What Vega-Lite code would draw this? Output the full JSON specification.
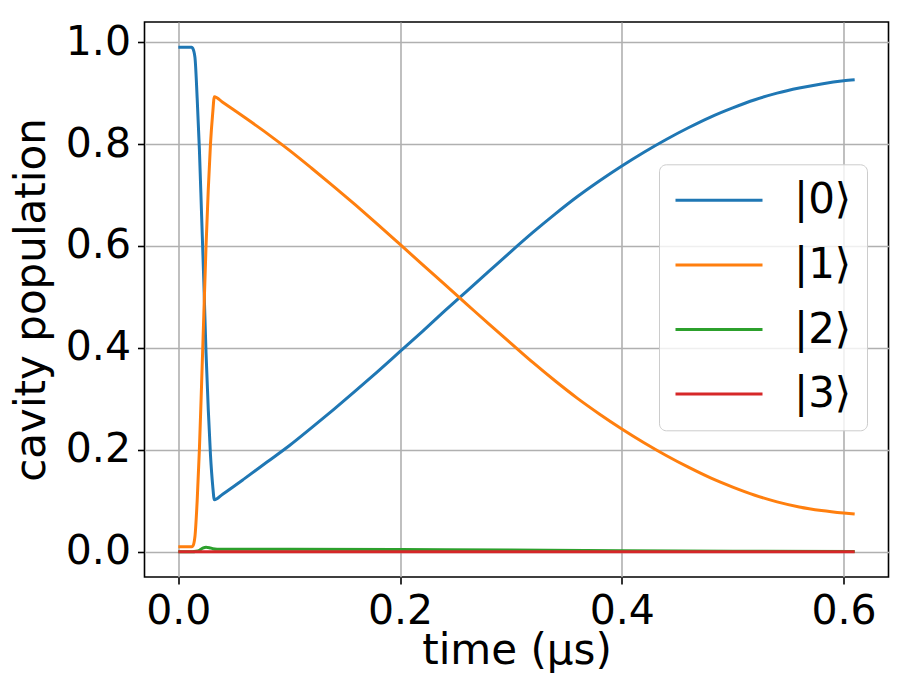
{
  "$schema": "https://vega.github.io/schema/vega-lite/v6.json",
  "width": 744,
  "height": 555,
  "autosize": {"type": "none"},
  "padding": {"left": 144.5, "top": 22, "right": 22.5, "bottom": 122},
  "background": "white",
  "data": {
    "values": [
      {"t": 0, "p": 0.990, "s": "|0⟩"},
      {"t": 0.012, "p": 0.990, "s": "|0⟩"},
      {"t": 0.013, "p": 0.988, "s": "|0⟩"},
      {"t": 0.015, "p": 0.970, "s": "|0⟩"},
      {"t": 0.017, "p": 0.890, "s": "|0⟩"},
      {"t": 0.019, "p": 0.790, "s": "|0⟩"},
      {"t": 0.021, "p": 0.660, "s": "|0⟩"},
      {"t": 0.023, "p": 0.530, "s": "|0⟩"},
      {"t": 0.025, "p": 0.390, "s": "|0⟩"},
      {"t": 0.027, "p": 0.280, "s": "|0⟩"},
      {"t": 0.029, "p": 0.190, "s": "|0⟩"},
      {"t": 0.031, "p": 0.130, "s": "|0⟩"},
      {"t": 0.0325, "p": 0.102, "s": "|0⟩"},
      {"t": 0.04, "p": 0.113, "s": "|0⟩"},
      {"t": 0.06, "p": 0.144, "s": "|0⟩"},
      {"t": 0.08, "p": 0.176, "s": "|0⟩"},
      {"t": 0.10, "p": 0.208, "s": "|0⟩"},
      {"t": 0.12, "p": 0.243, "s": "|0⟩"},
      {"t": 0.14, "p": 0.279, "s": "|0⟩"},
      {"t": 0.16, "p": 0.316, "s": "|0⟩"},
      {"t": 0.18, "p": 0.354, "s": "|0⟩"},
      {"t": 0.20, "p": 0.393, "s": "|0⟩"},
      {"t": 0.22, "p": 0.432, "s": "|0⟩"},
      {"t": 0.24, "p": 0.472, "s": "|0⟩"},
      {"t": 0.26, "p": 0.511, "s": "|0⟩"},
      {"t": 0.28, "p": 0.550, "s": "|0⟩"},
      {"t": 0.30, "p": 0.589, "s": "|0⟩"},
      {"t": 0.32, "p": 0.627, "s": "|0⟩"},
      {"t": 0.34, "p": 0.663, "s": "|0⟩"},
      {"t": 0.36, "p": 0.697, "s": "|0⟩"},
      {"t": 0.38, "p": 0.728, "s": "|0⟩"},
      {"t": 0.40, "p": 0.757, "s": "|0⟩"},
      {"t": 0.42, "p": 0.784, "s": "|0⟩"},
      {"t": 0.44, "p": 0.809, "s": "|0⟩"},
      {"t": 0.46, "p": 0.832, "s": "|0⟩"},
      {"t": 0.48, "p": 0.853, "s": "|0⟩"},
      {"t": 0.50, "p": 0.871, "s": "|0⟩"},
      {"t": 0.52, "p": 0.887, "s": "|0⟩"},
      {"t": 0.54, "p": 0.900, "s": "|0⟩"},
      {"t": 0.56, "p": 0.910, "s": "|0⟩"},
      {"t": 0.58, "p": 0.918, "s": "|0⟩"},
      {"t": 0.60, "p": 0.924, "s": "|0⟩"},
      {"t": 0.61, "p": 0.926, "s": "|0⟩"},

      {"t": 0, "p": 0.010, "s": "|1⟩"},
      {"t": 0.012, "p": 0.010, "s": "|1⟩"},
      {"t": 0.013, "p": 0.011, "s": "|1⟩"},
      {"t": 0.015, "p": 0.030, "s": "|1⟩"},
      {"t": 0.017, "p": 0.100, "s": "|1⟩"},
      {"t": 0.019, "p": 0.200, "s": "|1⟩"},
      {"t": 0.021, "p": 0.330, "s": "|1⟩"},
      {"t": 0.023, "p": 0.465, "s": "|1⟩"},
      {"t": 0.025, "p": 0.600, "s": "|1⟩"},
      {"t": 0.027, "p": 0.710, "s": "|1⟩"},
      {"t": 0.029, "p": 0.800, "s": "|1⟩"},
      {"t": 0.031, "p": 0.860, "s": "|1⟩"},
      {"t": 0.0325, "p": 0.893, "s": "|1⟩"},
      {"t": 0.04, "p": 0.882, "s": "|1⟩"},
      {"t": 0.06, "p": 0.852, "s": "|1⟩"},
      {"t": 0.08, "p": 0.821, "s": "|1⟩"},
      {"t": 0.10, "p": 0.788, "s": "|1⟩"},
      {"t": 0.12, "p": 0.753, "s": "|1⟩"},
      {"t": 0.14, "p": 0.717, "s": "|1⟩"},
      {"t": 0.16, "p": 0.680, "s": "|1⟩"},
      {"t": 0.18, "p": 0.642, "s": "|1⟩"},
      {"t": 0.20, "p": 0.603, "s": "|1⟩"},
      {"t": 0.22, "p": 0.564, "s": "|1⟩"},
      {"t": 0.24, "p": 0.525, "s": "|1⟩"},
      {"t": 0.26, "p": 0.486, "s": "|1⟩"},
      {"t": 0.28, "p": 0.447, "s": "|1⟩"},
      {"t": 0.30, "p": 0.409, "s": "|1⟩"},
      {"t": 0.32, "p": 0.371, "s": "|1⟩"},
      {"t": 0.34, "p": 0.335, "s": "|1⟩"},
      {"t": 0.36, "p": 0.301, "s": "|1⟩"},
      {"t": 0.38, "p": 0.270, "s": "|1⟩"},
      {"t": 0.40, "p": 0.241, "s": "|1⟩"},
      {"t": 0.42, "p": 0.214, "s": "|1⟩"},
      {"t": 0.44, "p": 0.189, "s": "|1⟩"},
      {"t": 0.46, "p": 0.166, "s": "|1⟩"},
      {"t": 0.48, "p": 0.145, "s": "|1⟩"},
      {"t": 0.50, "p": 0.127, "s": "|1⟩"},
      {"t": 0.52, "p": 0.111, "s": "|1⟩"},
      {"t": 0.54, "p": 0.098, "s": "|1⟩"},
      {"t": 0.56, "p": 0.088, "s": "|1⟩"},
      {"t": 0.58, "p": 0.081, "s": "|1⟩"},
      {"t": 0.60, "p": 0.076, "s": "|1⟩"},
      {"t": 0.61, "p": 0.074, "s": "|1⟩"},

      {"t": 0, "p": 0, "s": "|2⟩"},
      {"t": 0.013, "p": 0, "s": "|2⟩"},
      {"t": 0.016, "p": 0.001, "s": "|2⟩"},
      {"t": 0.019, "p": 0.003, "s": "|2⟩"},
      {"t": 0.022, "p": 0.007, "s": "|2⟩"},
      {"t": 0.025, "p": 0.009, "s": "|2⟩"},
      {"t": 0.028, "p": 0.008, "s": "|2⟩"},
      {"t": 0.031, "p": 0.006, "s": "|2⟩"},
      {"t": 0.035, "p": 0.005, "s": "|2⟩"},
      {"t": 0.10, "p": 0.005, "s": "|2⟩"},
      {"t": 0.20, "p": 0.0045, "s": "|2⟩"},
      {"t": 0.30, "p": 0.0035, "s": "|2⟩"},
      {"t": 0.40, "p": 0.002, "s": "|2⟩"},
      {"t": 0.50, "p": 0.001, "s": "|2⟩"},
      {"t": 0.61, "p": 0.0005, "s": "|2⟩"},

      {"t": 0, "p": 0, "s": "|3⟩"},
      {"t": 0.2, "p": 0.0001, "s": "|3⟩"},
      {"t": 0.4, "p": 0.0001, "s": "|3⟩"},
      {"t": 0.61, "p": 0, "s": "|3⟩"}
    ]
  },
  "mark": {"type": "line", "strokeWidth": 3, "clip": true, "interpolate": "monotone"},
  "encoding": {
    "x": {
      "field": "t",
      "type": "quantitative",
      "scale": {"domain": [-0.0305, 0.6405], "nice": false, "zero": false},
      "axis": {"values": [0, 0.2, 0.4, 0.6], "format": ".1f", "title": "time (μs)", "titlePadding": -1}
    },
    "y": {
      "field": "p",
      "type": "quantitative",
      "scale": {"domain": [-0.0495, 1.0395], "nice": false, "zero": false},
      "axis": {"values": [0, 0.2, 0.4, 0.6, 0.8, 1.0], "format": ".1f", "title": "cavity population", "titlePadding": 12}
    },
    "color": {
      "field": "s",
      "type": "nominal",
      "sort": ["|0⟩", "|1⟩", "|2⟩", "|3⟩"],
      "scale": {"domain": ["|0⟩", "|1⟩", "|2⟩", "|3⟩"], "range": ["#1f77b4", "#ff7f0e", "#2ca02c", "#d62728"]},
      "legend": {
        "orient": "none",
        "legendX": 514.5,
        "legendY": 142.3,
        "title": null,
        "symbolType": "stroke",
        "symbolSize": 7569,
        "symbolStrokeWidth": 3,
        "labelFontSize": 42,
        "labelFont": "DejaVu Sans",
        "labelColor": "black",
        "labelOffset": 30,
        "clipHeight": 42,
        "rowPadding": 22.6,
        "padding": 15,
        "strokeColor": "#cccccc",
        "fillColor": "rgba(255,255,255,0.8)",
        "cornerRadius": 7
      }
    }
  },
  "config": {
    "font": "DejaVu Sans",
    "view": {"stroke": "black", "strokeWidth": 1.6},
    "axis": {
      "domain": false,
      "grid": true,
      "gridColor": "#b0b0b0",
      "gridWidth": 1.6,
      "tickColor": "black",
      "tickWidth": 1.6,
      "tickSize": 7,
      "labelFontSize": 41,
      "labelColor": "black",
      "labelFont": "DejaVu Sans",
      "labelPadding": 7,
      "titleFont": "DejaVu Sans",
      "titleFontSize": 42,
      "titleFontWeight": "normal",
      "titleColor": "black"
    }
  }
}
